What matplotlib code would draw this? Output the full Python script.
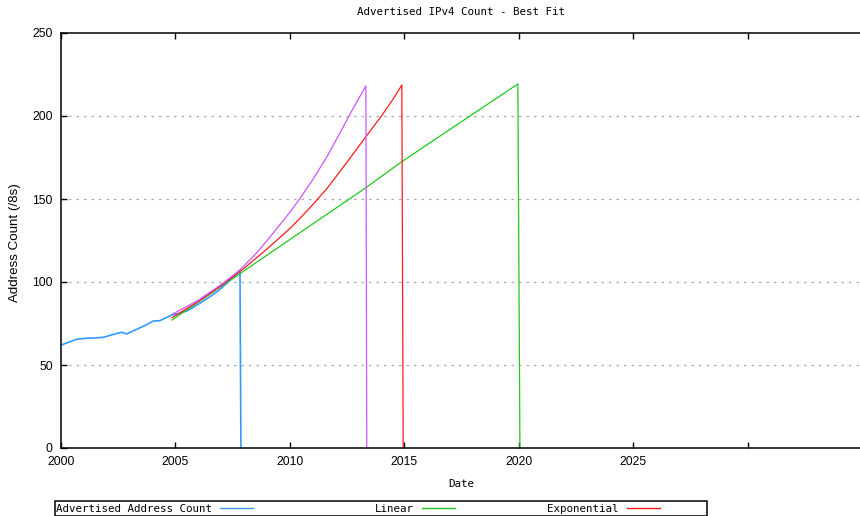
import matplotlib
matplotlib.use("Agg")
import matplotlib.pyplot as plt
from matplotlib.lines import Line2D
from matplotlib.patches import Rectangle

# advertised address count (/8s)
years_count = [2000.0, 2000.35, 2000.69, 2001.12, 2001.5, 2001.85, 2002.36, 2002.65,
               2002.87, 2003.31, 2003.7, 2004.03, 2004.32, 2004.83, 2005.2, 2005.49,
               2005.7, 2006.1, 2006.51, 2006.9, 2007.24, 2007.55, 2007.82, 2007.86]
count = [62.0, 63.8, 65.5, 66.1, 66.3, 66.7, 68.7, 69.7,
         68.7, 71.5, 74.0, 76.5, 76.7, 80.1, 81.3, 82.5,
         84.1, 87.5, 91.2, 95.0, 99.2, 103.0, 107.2, 0.0]

# best fit curves
years_linear = [2004.85, 2007.8, 2010.0, 2013.32, 2014.89, 2019.96, 2020.05]
linear = [77.1, 104.9, 125.6, 156.8, 172.5, 219.3, 0.0]

years_expo = [2004.85, 2006.0, 2007.0, 2008.0, 2009.0, 2010.0, 2010.5, 2011.0,
              2011.6, 2012.18, 2012.7, 2013.32, 2014.0, 2014.5, 2014.89, 2014.95]
expo = [78.5, 88.3, 97.8, 108.3, 119.9, 132.2, 139.2, 146.6,
        156.0, 166.4, 176.0, 187.5, 200.0, 210.0, 218.7, 0.0]

years_other = [2004.85, 2006.0, 2007.0, 2007.8, 2008.5, 2009.0, 2009.5, 2010.0,
               2010.5, 2011.0, 2011.6, 2012.18, 2012.7, 2013.32, 2013.36]
other = [80.5, 89.0, 98.5, 107.0, 116.8, 124.9, 133.4, 142.0,
         151.5, 161.7, 175.0, 189.6, 203.0, 218.1, 0.0]

x_ticks = [2000, 2005, 2010, 2015, 2020, 2025, 2030, 2035]
x_labels = ["2000", "2005", "2010", "2015", "2020", "2025", "", ""]
y_ticks = [0, 50, 100, 150, 200, 250]

W, H = 860, 516
fig = plt.figure(figsize=(W / 100, H / 100), dpi=100)
ax = fig.add_axes([61 / W, (H - 448) / H, (885 - 61) / W, 415 / H])

c_blue, c_green, c_red, c_purple = "#3399ff", "#1ec81e", "#ff1a1a", "#cc55ff"
ax.plot(years_count, count, color=c_blue, lw=1.2)
ax.plot(years_linear, linear, color=c_green, lw=0.9)
ax.plot(years_expo, expo, color=c_red, lw=0.9)
ax.plot(years_other, other, color=c_purple, lw=0.9)

ax.set_xlim(2000, 2036)
ax.set_ylim(0, 250)
ax.set_xticks(x_ticks)
ax.set_xticklabels(x_labels)
ax.set_yticks(y_ticks)
ax.tick_params(direction="in", length=4, width=1, top=True, right=True,
               labelsize=8.8, pad=6, colors="black")
for lab in ax.get_xticklabels() + ax.get_yticklabels():
    lab.set_family("Liberation Sans")

for y in y_ticks[1:-1]:
    ax.axhline(y, color="#aaaaaa", lw=0.9, ls=(0, (2, 4)), zorder=0)

for s in ax.spines.values():
    s.set_linewidth(1.1)

mono = "DejaVu Sans Mono"
fig.text(461 / W, 1 - 12 / H, "Advertised IPv4 Count - Best Fit", ha="center",
         va="center", family=mono, fontsize=7.8)
fig.text(461 / W, 1 - 484 / H, "Date", ha="center", va="center", family=mono,
         fontsize=7.8)
fig.text(15 / W, 1 - 243 / H, "Address Count (/8s)", ha="center", va="center",
         rotation=90, family="Liberation Sans", fontsize=9.6)

# legend drawn by hand, gnuplot style
fig.add_artist(Rectangle((55 / W, 1 - 516 / H), (707 - 55) / W, 15 / H,
                         transform=fig.transFigure, fill=False, lw=1.1,
                         edgecolor="black"))
entries = [("Advertised Address Count", c_blue, 212, 220),
           ("Linear", c_green, 414, 422),
           ("Exponential", c_red, 619, 627)]
for text, col, tx, lx in entries:
    fig.text(tx / W, 1 - 508.5 / H, text, ha="right", va="center", family=mono,
             fontsize=7.8)
    fig.add_artist(Line2D([lx / W, (lx + 33) / W], [1 - 508 / H, 1 - 508 / H],
                          transform=fig.transFigure, color=col, lw=1))

fig.savefig("out.png", dpi=100)
